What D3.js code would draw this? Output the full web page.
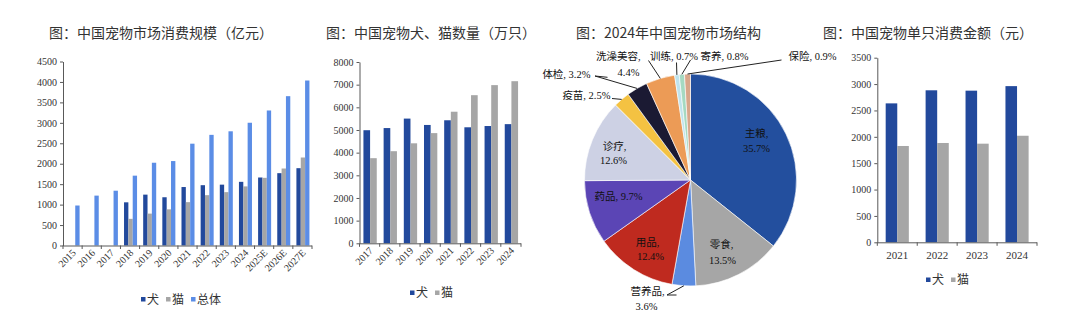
<!DOCTYPE html>
<html><head><meta charset="utf-8">
<script src="https://cdn.jsdelivr.net/npm/d3@7/dist/d3.min.js"></script>
<style>
html,body{margin:0;padding:0;background:#fff;}
svg{display:block;}
</style></head>
<body>
<svg id="c" width="1080" height="328"></svg>
<script>
// ---------- DATA ----------
const titles = ["图：中国宠物市场消费规模（亿元）","图：中国宠物犬、猫数量（万只）","图：2024年中国宠物市场结构","图：中国宠物单只消费金额（元）"];

const years1 = ["2015","2016","2017","2018","2019","2020","2021","2022","2023","2024","2025E","2026E","2027E"];
const dog1   = [null,null,null,1056,1244,1180,1430,1475,1488,1557,1663,1769,1891];
const cat1   = [null,null,null,652,780,884,1060,1231,1305,1445,1655,1883,2152];
const total1 = [978,1220,1340,1708,2024,2065,2490,2706,2793,3002,3302,3652,4035];
const ticks1 = [0,500,1000,1500,2000,2500,3000,3500,4000,4500];

const years2 = ["2017","2018","2019","2020","2021","2022","2023","2024"];
const dog2   = [4990,5085,5503,5222,5429,5119,5175,5258];
const cat2   = [3756,4064,4412,4862,5806,6536,6980,7153];
const ticks2 = [0,1000,2000,3000,4000,5000,6000,7000,8000];

const pieNames  = ["主粮","零食","营养品","用品","药品","诊疗","疫苗","体检","洗澡美容","训练","寄养","保险"];
const pieValues = [35.7,13.5,3.6,12.4,9.7,12.6,2.5,3.2,4.4,0.7,0.8,0.9];

const years4 = ["2021","2022","2023","2024"];
const dog4   = [2634,2882,2875,2961];
const cat4   = [1826,1883,1870,2020];
const ticks4 = [0,500,1000,1500,2000,2500,3000,3500];

// ---------- STYLE ----------
const C = {dog:"#22499c", cat:"#a6a6a6", total:"#5b8de6", axis:"#595959", text:"#333"};
const pieColors = ["#234f9e","#a6a6a6","#5b8be0","#bf2a1f","#5b45b5","#cdd1e4","#f4c242","#1b1a33","#ec9b56","#bfe3ec","#a5d9c2","#d8a68a"];
const serif = "'Liberation Serif','Times New Roman','Noto Sans CJK SC',serif";
const cjk = "'Noto Sans CJK SC','Noto Sans',sans-serif";

const svg = d3.select("#c");

// titles
const titleX = [49,326,576,823];
titles.forEach((t,i)=>{
  svg.append("text").attr("x",titleX[i]).attr("y",37.5).attr("font-family",cjk)
    .attr("font-size",14).attr("fill",C.text).text(t);
});

function barPanel(o){
  const g = svg.append("g");
  const x = d3.scaleBand().domain(o.cats).range([o.x0,o.x1]);
  const y = d3.scaleLinear().domain([0,o.ticks[o.ticks.length-1]]).range([o.y0,o.y1]);
  const gw = x.bandwidth()*o.frac;
  const bw = gw/o.series.length;
  o.series.forEach((s,si)=>{
    g.selectAll(null).data(o.cats.map((c,i)=>({c,v:s.values[i]})).filter(d=>d.v!=null))
      .enter().append("rect")
      .attr("x",d=>x(d.c)+(x.bandwidth()-gw)/2+si*bw+o.shift)
      .attr("width",bw)
      .attr("y",d=>y(d.v)).attr("height",d=>y(0)-y(d.v))
      .attr("fill",s.color);
  });
  // y axis
  const ya = d3.axisLeft(y).tickValues(o.ticks).tickFormat(d3.format("d")).tickSize(3).tickPadding(3).tickSizeOuter(0);
  const yg = g.append("g").attr("transform",`translate(${o.x0},0)`).call(ya);
  yg.select(".domain").attr("stroke",C.axis);
  yg.selectAll(".tick line").attr("stroke",C.axis);
  yg.selectAll("text").attr("font-family",serif).attr("font-size",10).attr("fill",C.text);
  // x axis line
  g.append("line").attr("x1",o.x0).attr("x2",o.x1).attr("y1",o.y0+0.5).attr("y2",o.y0+0.5).attr("stroke",C.axis);
  const bounds = o.cats.map(c=>x(c)).concat([o.x1]);
  g.selectAll(null).data(bounds).enter().append("line")
    .attr("x1",d=>d).attr("x2",d=>d).attr("y1",o.y0).attr("y2",o.y0+3.5).attr("stroke",C.axis);
  // x labels
  const lab = g.selectAll(null).data(o.cats).enter().append("text")
    .attr("font-family",serif).attr("font-size",o.rotate?10:11).attr("fill",C.text).text(d=>d);
  if(o.rotate){
    lab.attr("text-anchor","end")
      .attr("transform",d=>`translate(${x(d)+x.bandwidth()/2+4},${o.y0+8}) rotate(-45)`);
  } else {
    lab.attr("text-anchor","middle").attr("x",d=>x(d)+x.bandwidth()/2).attr("y",o.y0+17);
  }
  // legend
  let lx = o.legX;
  o.series.forEach(s=>{
    g.append("rect").attr("x",lx).attr("y",o.legY-2.5).attr("width",4.5).attr("height",4.5).attr("fill",s.color);
    const t = g.append("text").attr("x",lx+6).attr("y",o.legY+4.2).attr("font-family",cjk)
      .attr("font-size",12).attr("fill",C.text).text(s.name);
    lx += 6 + t.node().getComputedTextLength() + 7;
  });
}

barPanel({cats:years1,x0:63,x1:312,y0:245.5,y1:61.5,ticks:ticks1,frac:0.68,shift:0.5,rotate:true,
  series:[{name:"犬",values:dog1,color:C.dog},{name:"猫",values:cat1,color:C.cat},{name:"总体",values:total1,color:C.total}],
  legX:141,legY:299.5});

barPanel({cats:years2,x0:359.5,x1:521,y0:243.3,y1:62,ticks:ticks2,frac:0.66,shift:0.5,rotate:true,
  series:[{name:"犬",values:dog2,color:C.dog},{name:"猫",values:cat2,color:C.cat}],
  legX:410,legY:293});

barPanel({cats:years4,x0:877.3,x1:1037,y0:242.3,y1:57.7,ticks:ticks4,frac:0.58,shift:0,rotate:false,
  series:[{name:"犬",values:dog4,color:C.dog},{name:"猫",values:cat4,color:C.cat}],
  legX:926,legY:280});

// ---------- PIE ----------
const cx = 690.5, cy = 180, R = 106;
const pg = svg.append("g").attr("transform",`translate(${cx},${cy})`);
const pie = d3.pie().sort(null).value(d=>d.v);
const arcs = pie(pieNames.map((n,i)=>({n,v:pieValues[i],c:pieColors[i]})));
const arc = d3.arc().innerRadius(0).outerRadius(R);
const edge = d3.arc().innerRadius(R).outerRadius(R);
pg.selectAll(null).data(arcs).enter().append("path")
  .attr("d",arc).attr("fill",d=>d.data.c).attr("stroke","#fff").attr("stroke-width",0.6);

// label layout (relative to pie centre): lines, anchor, and optional leader elbow
const labelLayout = {
  "主粮":   {lines:[[66,-47,"主粮,"],[66,-32,"35.7%"]], anchor:"middle"},
  "零食":   {lines:[[31,64,"零食,"],[32,80,"13.5%"]], anchor:"middle"},
  "营养品": {lines:[[-43,111,"营养品,"],[-44,126.5,"3.6%"]], anchor:"middle", leader:[[-23.5,115],[-14,115]]},
  "用品":   {lines:[[-43,62,"用品,"],[-40,76,"12.4%"]], anchor:"middle"},
  "药品":   {lines:[[-72,16,"药品, 9.7%"]], anchor:"middle"},
  "诊疗":   {lines:[[-76,-34,"诊疗,"],[-77,-20,"12.6%"]], anchor:"middle"},
  "疫苗":   {lines:[[-80,-85,"疫苗, 2.5%"]], anchor:"end", leader:[[-78.5,-81.5]]},
  "体检":   {lines:[[-100,-105.5,"体检, 3.2%"]], anchor:"end", leader:[[-95.5,-104],[-83,-102.7]]},
  "洗澡美容": {lines:[[-94.5,-124,"洗澡美容,"],[-73,-108,"4.4%"]], anchor:"start", leader:[[-42,-119.5]]},
  "训练":   {lines:[[-40.5,-124,"训练, 0.7%"]], anchor:"start", leader:[[-14,-117.5]]},
  "寄养":   {lines:[[10,-124,"寄养, 0.8%"]], anchor:"start", leader:[[0,-120]]},
  "保险":   {lines:[[98,-124,"保险, 0.9%"]], anchor:"start", leader:[[91,-120]]}
};
arcs.forEach(a=>{
  const L = labelLayout[a.data.n];
  if(L.leader){
    const p = edge.centroid(a);
    const pts = L.leader.slice().reverse().concat([p]);
    pg.append("path").attr("d",d3.line()(pts)).attr("fill","none").attr("stroke","#222").attr("stroke-width",1);
  }
  L.lines.forEach(([dx,dy,t])=>{
    pg.append("text").attr("x",dx).attr("y",dy).attr("dy","0.35em").attr("text-anchor",L.anchor)
      .attr("font-family",serif).attr("font-size",10.5).attr("fill","#111").text(t);
  });
});
</script>
</body></html>
